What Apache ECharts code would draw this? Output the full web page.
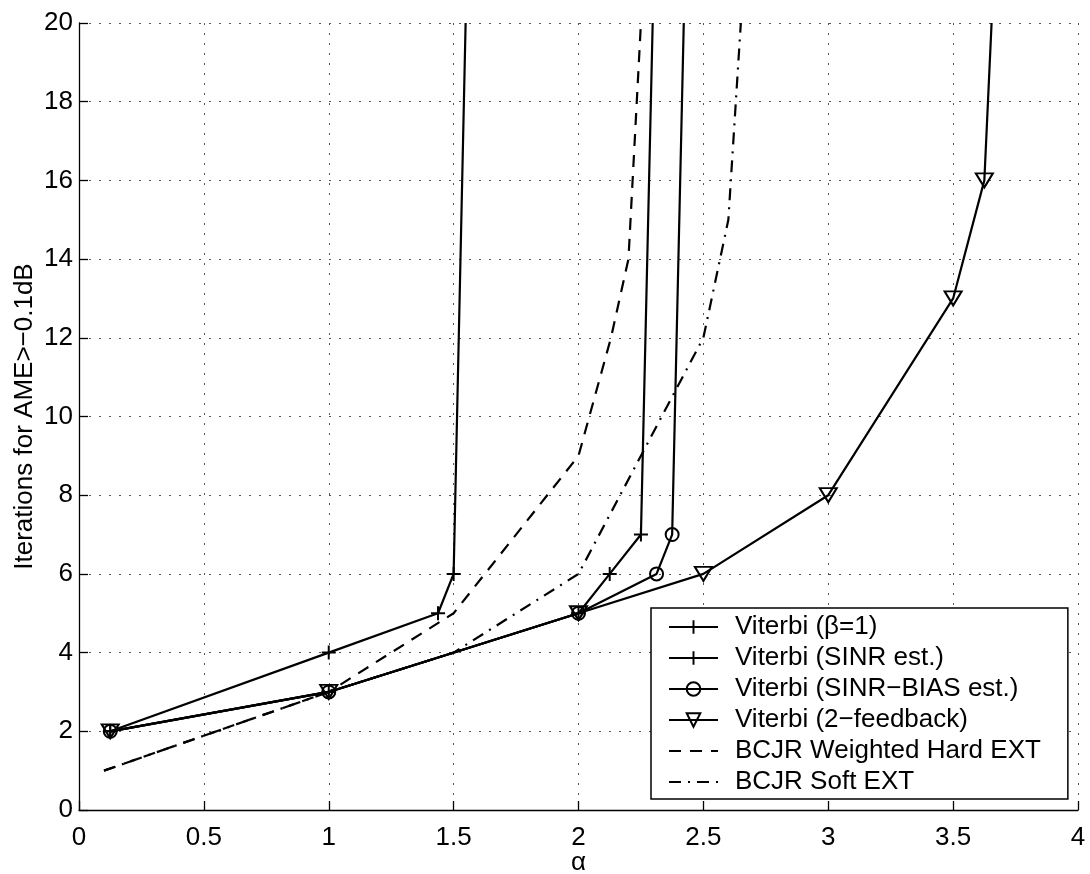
<!DOCTYPE html>
<html>
<head>
<meta charset="utf-8">
<script src="https://cdn.jsdelivr.net/npm/echarts@6/dist/echarts.min.js"></script>
<style>html,body{margin:0;padding:0;background:#fff}#c{width:1090px;height:874px}</style>
</head>
<body>
<div id="c"></div>
<script>
// ---- data ----
var xTicks = [0, 0.5, 1, 1.5, 2, 2.5, 3, 3.5, 4];
var yTicks = [0, 2, 4, 6, 8, 10, 12, 14, 16, 18, 20];

var beta1X = [0.125, 1, 1.4375, 1.5, 1.548];
var beta1Y = [2, 4, 5, 6, 20];

var sinrX = [0.125, 1, 2, 2.125, 2.25, 2.297];
var sinrY = [2, 3, 5, 6, 7, 20];

var sinrBiasX = [0.125, 1, 2, 2.3125, 2.375, 2.4215];
var sinrBiasY = [2, 3, 5, 6, 7, 20];

var fb2X = [0.125, 1, 2, 2.5, 3, 3.5, 3.625, 3.654];
var fb2Y = [2, 3, 5, 6, 8, 13, 16, 20];

var hardX = [0.1, 1, 1.5, 2, 2.13, 2.2, 2.25];
var hardY = [1, 3, 5, 9, 12, 14, 20];

var softX = [0.1, 1, 1.5, 2, 2.5, 2.6, 2.65];
var softY = [1, 3, 4, 6, 12, 15, 20];

var names = [
  'Viterbi (\u03B2=1)',
  'Viterbi (SINR est.)',
  'Viterbi (SINR\u2212BIAS est.)',
  'Viterbi (2\u2212feedback)',
  'BCJR Weighted Hard EXT',
  'BCJR Soft EXT'
];

// ---- helpers ----
function pts(xs, ys, hideLast) {
  return xs.map(function (x, i) {
    var p = { value: [x, ys[i]] };
    if (hideLast && i === xs.length - 1) p.symbol = 'none';
    return p;
  });
}
var FONT = 'Liberation Sans, Arial, Helvetica, sans-serif';
var plusPath = 'path://M-1,-7L1,-7L1,7L-1,7ZM-7,-1L7,-1L7,1L-7,1Z';

function markerSeries(name, xs, ys, symbol, size, opts) {
  var s = {
    name: name,
    type: 'line',
    data: pts(xs, ys, true),
    symbol: symbol,
    symbolSize: size,
    showSymbol: true,
    lineStyle: { color: '#000', width: 2.2, type: 'solid' },
    itemStyle: { color: '#000', borderColor: '#000', borderWidth: 0 },
    emphasis: { disabled: true },
    z: 3
  };
  if (opts) { for (var k in opts) s[k] = opts[k]; }
  return s;
}
function styleSeries(name, xs, ys, dash) {
  return {
    name: name,
    type: 'line',
    data: pts(xs, ys, false),
    symbol: 'none',
    lineStyle: { color: '#000', width: 2.2, type: dash },
    itemStyle: { color: '#000' },
    emphasis: { disabled: true },
    z: 2
  };
}

var hollow = { color: 'rgba(0,0,0,0)', borderColor: '#000', borderWidth: 2 };

var series = [
  markerSeries(names[0], beta1X, beta1Y, plusPath, 14),
  markerSeries(names[1], sinrX, sinrY, plusPath, 14),
  markerSeries(names[2], sinrBiasX, sinrBiasY, 'circle', 13, { itemStyle: hollow }),
  markerSeries(names[3], fb2X, fb2Y, 'triangle', [17, 14], { itemStyle: hollow, symbolRotate: 180 }),
  styleSeries(names[4], hardX, hardY, [12, 9]),
  styleSeries(names[5], softX, softY, [12, 7, 2, 7])
];

var noMark = { color: 'rgba(0,0,0,0)', borderColor: 'rgba(0,0,0,0)', borderWidth: 0 };
var legendData = names.map(function (n, i) {
  return i >= 4 ? { name: n, itemStyle: noMark } : { name: n };
});

var gridLine = { show: true, lineStyle: { color: '#555', width: 1, type: [2, 8] } };

var chart = echarts.init(document.getElementById('c'), null, { renderer: 'canvas' });
chart.setOption({
  animation: false,
  backgroundColor: '#fff',
  textStyle: { fontFamily: FONT },
  grid: { left: 79, right: 12, top: 23, bottom: 64, containLabel: false, outerBoundsMode: 'none' },
  xAxis: {
    type: 'value',
    min: xTicks[0],
    max: xTicks[xTicks.length - 1],
    interval: xTicks[1] - xTicks[0],
    name: '\u03B1',
    nameLocation: 'middle',
    nameGap: 40,
    nameMoveOverlap: false,
    nameTextStyle: { fontSize: 26, color: '#000', fontFamily: FONT },
    axisLine: { show: true, onZero: false, lineStyle: { color: '#000', width: 1.3 } },
    axisTick: { show: true, inside: true, length: 9, lineStyle: { color: '#000', width: 1.3 } },
    axisLabel: { fontSize: 26, color: '#000', margin: 15, fontFamily: FONT },
    splitLine: gridLine
  },
  yAxis: {
    type: 'value',
    min: yTicks[0],
    max: yTicks[yTicks.length - 1],
    interval: yTicks[1] - yTicks[0],
    name: 'Iterations for AME>\u22120.1dB',
    nameLocation: 'middle',
    nameGap: 41,
    nameMoveOverlap: false,
    nameTextStyle: { fontSize: 26, color: '#000', fontFamily: FONT },
    axisLine: { show: true, onZero: false, lineStyle: { color: '#000', width: 1.3 } },
    axisTick: { show: true, inside: true, length: 9, lineStyle: { color: '#000', width: 1.3 } },
    axisLabel: { fontSize: 26, color: '#000', margin: 6, fontFamily: FONT },
    splitLine: gridLine
  },
  legend: {
    orient: 'vertical',
    left: 651,
    top: 608,
    padding: [6, 27, 4, 17],
    itemGap: 5,
    itemWidth: 49,
    itemHeight: 17,
    backgroundColor: '#fff',
    borderColor: '#000',
    borderWidth: 1.5,
    borderRadius: 0,
    selectedMode: false,
    textStyle: { fontSize: 26, color: '#000', fontFamily: FONT, padding: [0, 0, 0, 12] },
    data: legendData
  },
  series: series
});
</script>
</body>
</html>
